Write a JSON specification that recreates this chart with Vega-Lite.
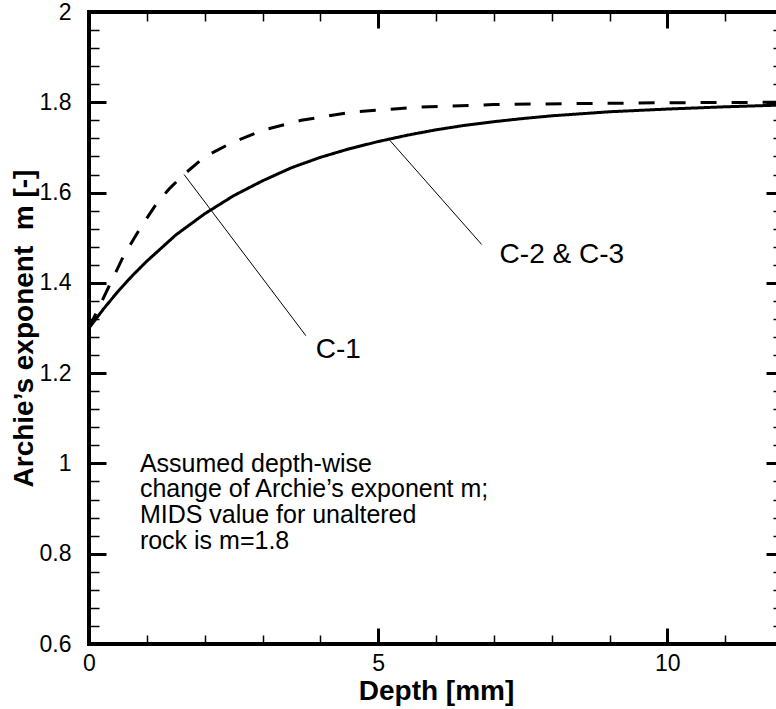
{
  "$schema": "https://vega.github.io/schema/vega-lite/v6.json",
  "width": 694,
  "height": 632,
  "autosize": {"type": "none"},
  "padding": {"left": 89, "top": 12, "right": 0, "bottom": 65},
  "background": "white",
  "config": {
    "font": "Liberation Sans",
    "view": {"stroke": "black", "strokeWidth": 4},
    "axis": {"domain": false, "grid": false, "tickColor": "black", "labelColor": "black", "titleColor": "black", "labelFont": "Liberation Sans", "titleFont": "Liberation Sans", "labelFlush": false, "labelOverlap": false}
  },
  "datasets": {
    "curves": [
      {"series": "C-2 & C-3", "x": 0, "y": 1.3},
      {"series": "C-2 & C-3", "x": 0.25, "y": 1.342},
      {"series": "C-2 & C-3", "x": 0.5, "y": 1.381},
      {"series": "C-2 & C-3", "x": 0.75, "y": 1.416},
      {"series": "C-2 & C-3", "x": 1.0, "y": 1.448},
      {"series": "C-2 & C-3", "x": 1.5, "y": 1.506},
      {"series": "C-2 & C-3", "x": 2.0, "y": 1.553},
      {"series": "C-2 & C-3", "x": 2.5, "y": 1.593},
      {"series": "C-2 & C-3", "x": 3.0, "y": 1.626},
      {"series": "C-2 & C-3", "x": 3.5, "y": 1.655},
      {"series": "C-2 & C-3", "x": 4.0, "y": 1.678},
      {"series": "C-2 & C-3", "x": 4.5, "y": 1.697},
      {"series": "C-2 & C-3", "x": 5.0, "y": 1.713},
      {"series": "C-2 & C-3", "x": 5.5, "y": 1.727},
      {"series": "C-2 & C-3", "x": 6.0, "y": 1.739},
      {"series": "C-2 & C-3", "x": 6.5, "y": 1.749},
      {"series": "C-2 & C-3", "x": 7.0, "y": 1.757},
      {"series": "C-2 & C-3", "x": 7.5, "y": 1.764},
      {"series": "C-2 & C-3", "x": 8.0, "y": 1.770},
      {"series": "C-2 & C-3", "x": 9.0, "y": 1.779},
      {"series": "C-2 & C-3", "x": 10.0, "y": 1.785},
      {"series": "C-2 & C-3", "x": 11.0, "y": 1.790},
      {"series": "C-2 & C-3", "x": 12.0, "y": 1.794},
      {"series": "C-1", "x": 0, "y": 1.3},
      {"series": "C-1", "x": 0.1, "y": 1.327},
      {"series": "C-1", "x": 0.33, "y": 1.388},
      {"series": "C-1", "x": 0.6, "y": 1.46},
      {"series": "C-1", "x": 0.88, "y": 1.52},
      {"series": "C-1", "x": 1.17, "y": 1.576},
      {"series": "C-1", "x": 1.4, "y": 1.61},
      {"series": "C-1", "x": 1.64, "y": 1.64},
      {"series": "C-1", "x": 2.0, "y": 1.679},
      {"series": "C-1", "x": 2.46, "y": 1.71},
      {"series": "C-1", "x": 3.0, "y": 1.738},
      {"series": "C-1", "x": 3.67, "y": 1.76},
      {"series": "C-1", "x": 4.54, "y": 1.778},
      {"series": "C-1", "x": 5.66, "y": 1.789},
      {"series": "C-1", "x": 7.0, "y": 1.795},
      {"series": "C-1", "x": 8.26, "y": 1.797},
      {"series": "C-1", "x": 10.0, "y": 1.799},
      {"series": "C-1", "x": 12.0, "y": 1.8}
    ],
    "leaders": [
      {"x": 1.644, "y": 1.64, "x2": 3.75, "y2": 1.283},
      {"x": 5.2, "y": 1.716, "x2": 6.79, "y2": 1.485}
    ],
    "labels": [
      {"x": 3.92, "y": 1.234, "text": "C-1"},
      {"x": 7.1, "y": 1.444, "text": "C-2 & C-3"}
    ],
    "note": [
      {"x": 0.88, "y": 0.982, "text": "Assumed depth-wise\nchange of Archie’s exponent m;\nMIDS value for unaltered\nrock is m=1.8"}
    ]
  },
  "layer": [
    {
      "data": {"name": "curves"},
      "mark": {"type": "line", "color": "black", "strokeWidth": 3},
      "encoding": {
        "x": {"field": "x", "type": "quantitative", "scale": {"domain": [0, 12], "nice": false, "zero": false},
          "axis": {"orient": "bottom", "values": [0, 5, 10], "tickSize": -16, "tickWidth": 3, "labelFontSize": 23, "labelPadding": 24, "format": "~r", "title": "Depth [mm]", "titleFontSize": 28, "titleFontWeight": "bold", "titlePadding": 2}},
        "y": {"field": "y", "type": "quantitative", "scale": {"domain": [0.6, 2], "nice": false, "zero": false},
          "axis": {"orient": "left", "values": [0.6, 0.8, 1, 1.2, 1.4, 1.6, 1.8, 2], "tickSize": -17, "tickWidth": 3, "labelFontSize": 23, "labelPadding": 35, "format": "~r", "title": "Archie’s exponent \u00a0m [-]", "titleFontSize": 28, "titleFontWeight": "bold", "titlePadding": 1}},
        "strokeDash": {"field": "series", "type": "nominal", "scale": {"domain": ["C-2 & C-3", "C-1"], "range": [[1, 0], [16, 15]]}, "legend": null}
      }
    },
    {
      "data": {"name": "leaders"},
      "mark": {"type": "rule", "color": "black", "strokeWidth": 1},
      "encoding": {
        "x": {"field": "x", "type": "quantitative", "scale": {"domain": [0, 12], "nice": false, "zero": false},
          "axis": {"orient": "bottom", "values": [1, 2, 3, 4, 6, 7, 8, 9, 11], "tickSize": -9, "tickWidth": 1.5, "labels": false, "title": null}},
        "y": {"field": "y", "type": "quantitative", "scale": {"domain": [0.6, 2], "nice": false, "zero": false},
          "axis": {"orient": "left", "values": [0.64, 0.68, 0.72, 0.76, 0.84, 0.88, 0.92, 0.96, 1.04, 1.08, 1.12, 1.16, 1.24, 1.28, 1.32, 1.36, 1.44, 1.48, 1.52, 1.56, 1.64, 1.68, 1.72, 1.76, 1.84, 1.88, 1.92, 1.96], "tickSize": -10, "tickWidth": 1.5, "labels": false, "title": null}},
        "x2": {"field": "x2"},
        "y2": {"field": "y2"}
      }
    },
    {
      "data": {"name": "labels"},
      "mark": {"type": "text", "align": "left", "baseline": "alphabetic", "fontSize": 28, "color": "black"},
      "encoding": {
        "x": {"field": "x", "type": "quantitative", "scale": {"domain": [0, 12], "nice": false, "zero": false},
          "axis": {"orient": "top", "values": [0, 5, 10], "tickSize": -16, "tickWidth": 3, "labels": false, "title": null}},
        "y": {"field": "y", "type": "quantitative", "scale": {"domain": [0.6, 2], "nice": false, "zero": false},
          "axis": {"orient": "right", "values": [0.6, 0.8, 1, 1.2, 1.4, 1.6, 1.8, 2], "tickSize": -17, "tickWidth": 3, "labels": false, "title": null}},
        "text": {"field": "text"}
      }
    },
    {
      "data": {"name": "note"},
      "mark": {"type": "text", "align": "left", "baseline": "alphabetic", "fontSize": 25, "lineHeight": 25.7, "lineBreak": "\n", "color": "black"},
      "encoding": {
        "x": {"field": "x", "type": "quantitative", "scale": {"domain": [0, 12], "nice": false, "zero": false},
          "axis": {"orient": "top", "values": [1, 2, 3, 4, 6, 7, 8, 9, 11], "tickSize": -9, "tickWidth": 1.5, "labels": false, "title": null}},
        "y": {"field": "y", "type": "quantitative", "scale": {"domain": [0.6, 2], "nice": false, "zero": false},
          "axis": {"orient": "right", "values": [0.64, 0.68, 0.72, 0.76, 0.84, 0.88, 0.92, 0.96, 1.04, 1.08, 1.12, 1.16, 1.24, 1.28, 1.32, 1.36, 1.44, 1.48, 1.52, 1.56, 1.64, 1.68, 1.72, 1.76, 1.84, 1.88, 1.92, 1.96], "tickSize": -10, "tickWidth": 1.5, "labels": false, "title": null}},
        "text": {"field": "text"}
      }
    }
  ],
  "resolve": {"axis": {"x": "independent", "y": "independent"}}
}
